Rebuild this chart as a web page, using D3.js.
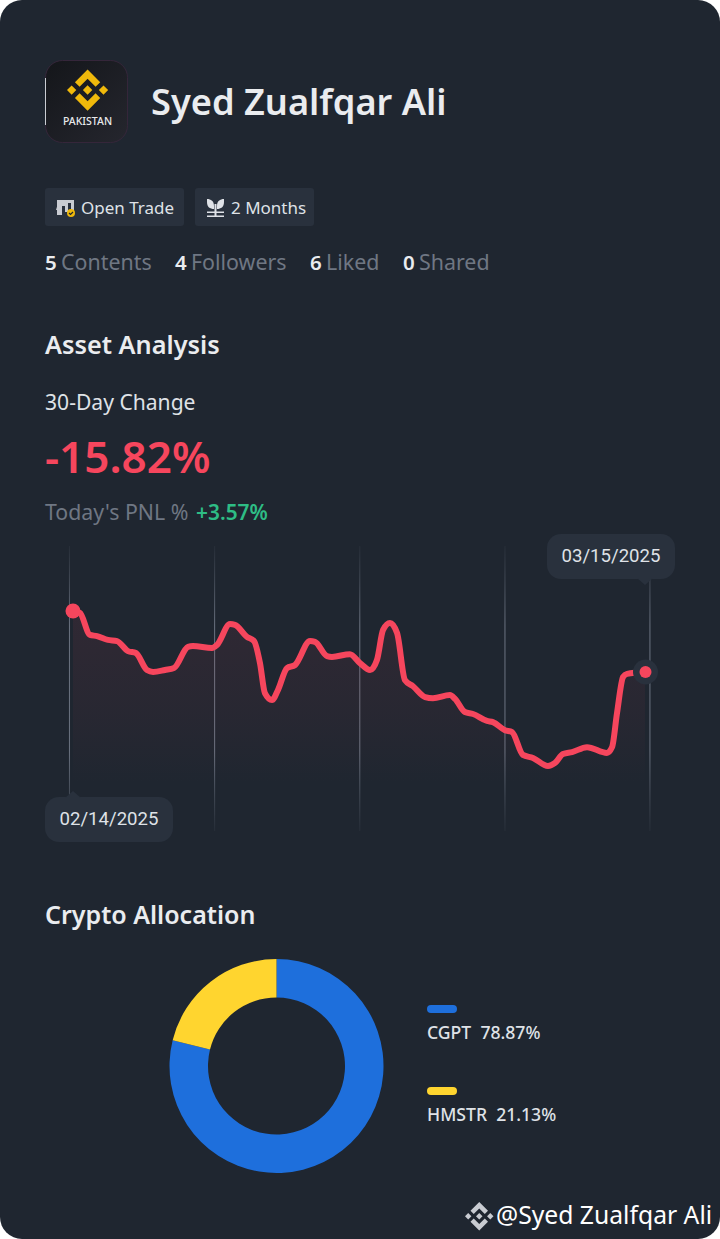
<!DOCTYPE html>
<html><head><meta charset="utf-8">
<script src="https://cdn.jsdelivr.net/npm/d3@7/dist/d3.min.js"></script>
<style>html,body{margin:0;padding:0;background:#fff}svg{display:block}</style>
</head><body><div id="c"></div>
<script>
const days=[0,.35,.86,1.22,1.77,2.23,2.79,3.19,3.75,4.06,4.66,5.12,5.83,6.08,7.05,7.3,7.96,8.21,8.82,9.18,9.48,9.73,10.09,10.39,10.85,11.26,12.02,12.27,12.88,13.13,14.04,14.55,15.06,15.41,15.72,16.07,16.43,16.83,17.24,17.85,18.25,19.11,19.37,19.87,20.28,20.99,21.29,21.9,22.26,22.81,23.32,24.08,24.44,24.84,25.3,26.06,27.07,27.33,27.58,27.89,28.09,29];
const changes=[0,-.5,-6.2,-6.5,-7.5,-7.8,-10.4,-10.9,-15.3,-15.8,-15.3,-14.8,-9.3,-9.1,-9.6,-8.8,-3.4,-3.6,-6.7,-7.8,-13.5,-21.3,-23.1,-20.5,-14.8,-14,-7.8,-8,-11.7,-11.9,-11.2,-13.5,-15.3,-12.7,-4.9,-3.1,-5.7,-17.9,-19.5,-22.3,-22.6,-21.8,-22.8,-26.2,-26.7,-28.5,-28.8,-30.9,-31.4,-37.3,-38.1,-40.2,-39.4,-37.1,-36.6,-35.3,-36.8,-35.3,-26.5,-17.1,-16.3,-15.82];
const gridDays=[-.18,7.18,14.54,21.9,29.25];
const dateLabels=["02/14/2025","03/15/2025"];
const assets=["CGPT","HMSTR"];
const shares=[78.87,21.13];
const assetColors=["#1e6fdc","#ffd52f"];
const stats=[["5","Contents"],["4","Followers"],["6","Liked"],["0","Shared"]];

const W=720,H=1239,UI="'Noto Sans',sans-serif",NUM="Roboto,sans-serif";
const svg=d3.select("#c").append("svg").attr("width",W).attr("height",H);
const defs=svg.append("defs");
const LOGO="M38.73 53.2l24.59-24.58 24.6 24.6 14.3-14.31L63.32 0 24.42 38.9l14.31 14.3zM0 63.31l14.3-14.31 14.31 14.31-14.31 14.3zM38.73 73.41l24.59 24.59 24.6-24.6 14.31 14.29-38.9 38.91-38.91-38.88v-.03l14.31-14.28zM98 63.31l14.3-14.31 14.31 14.3-14.31 14.32zM77.83 63.3L63.32 48.78 52.59 59.51l-1.24 1.23-2.54 2.54 14.51 14.5 14.51-14.47z";
svg.append("rect").attr("width",W).attr("height",H).attr("rx",22).attr("fill","#1f2630");

function txt(x,y,s,size,fill,weight,font,anchor){
  return svg.append("text").attr("x",x).attr("y",y).text(s).attr("font-size",size).attr("fill",fill)
   .attr("font-weight",weight||400).attr("font-family",font||UI).attr("text-anchor",anchor||"start");
}
// avatar
const ag=defs.append("linearGradient").attr("id","av").attr("x1",0).attr("y1",0).attr("x2",1).attr("y2",1);
ag.append("stop").attr("offset",0).attr("stop-color","#14161a");
ag.append("stop").attr("offset",1).attr("stop-color","#25262e");
svg.append("rect").attr("x",45.5).attr("y",60.5).attr("width",82).attr("height",82).attr("rx",17).attr("fill","url(#av)").attr("stroke","#35263a");
svg.append("rect").attr("x",45).attr("y",78).attr("width",1).attr("height",47).attr("fill","#c9ccd2");
svg.append("path").attr("d",LOGO).attr("fill","#f0b90b").attr("transform","translate(67,69.500) scale(.325)");
txt(87.5,125,"PAKISTAN",10.5,"#e8e9ec",500,UI,"middle");
txt(151,115,"Syed Zualfqar Ali",36.2,"#eaecef",600);

// badges
function badge(x,w,label,tx){
  svg.append("rect").attr("x",x).attr("y",188).attr("width",w).attr("height",38).attr("rx",3).attr("fill","#29313d");
  txt(tx,214,label,17,"#dfe2e7",400);
}
badge(45,139,"Open Trade",81);
badge(195,119,"2 Months",231);
svg.append("path").attr("d","M57 200h2v15h-2zM59 200h15v10h-3v-7h-3v9h-3v-6h-3v9h-3v-5h-3z").attr("fill","#c9ccd2");
svg.append("circle").attr("cx",71).attr("cy",213).attr("r",4).attr("fill","#f0b90b");
svg.append("path").attr("d","M69 213l1.500 1.500 2.500-2.500").attr("stroke","#1f2630").attr("stroke-width",1.2).attr("fill","none");
svg.append("path").attr("d","M207 199c4 0 7 2 7 7v3c-4 0-7-2-7-7zM224 199v3c0 5-3 7-7 7v-3c0-5 3-7 7-7zM214.500 204h2v12h-2zM207 211.500h17v1.500h-17zM207 215.500h17v1.500h-17z").attr("fill","#dfe2e7");

// stats
const statPos=[[45,61],[175,191],[310,326],[403,419]];
stats.forEach((s,i)=>{
  txt(statPos[i][0],270,s[0],20.5,"#eaecef",600);
  txt(statPos[i][1],270,s[1],21.4,"#6f7783",400);
});
txt(45,354,"Asset Analysis",25.3,"#eaecef",600);
txt(45,410,"30-Day Change",21.1,"#dfe2e7",400);
txt(45,473,"-15.82%",44,"#f6465d",600);
txt(45,520,"Today's PNL %",21.3,"#6f7783",400);
txt(196,520,"+3.57%",20.9,"#2ebd85",600);

// chart
const x=d3.scaleLinear().domain([0,29]).range([73,645]);
const y=d3.scaleLinear().domain([0,-40.5]).range([611,767.2]);
const data=days.map((d,i)=>[d,changes[i]]);
const gg=defs.append("linearGradient").attr("id","gl").attr("x1",0).attr("y1",0).attr("x2",0).attr("y2",1);
[[0,.1],[.12,.45],[.28,1],[.72,1],[.88,.45],[1,.1]].forEach(s=>gg.append("stop").attr("offset",s[0]).attr("stop-color","#6a7280").attr("stop-opacity",s[1]));
svg.append("g").selectAll("rect").data(gridDays).join("rect")
 .attr("x",d=>x(d)-.5).attr("y",546).attr("width",1).attr("height",285).attr("fill","url(#gl)");
const fg=defs.append("linearGradient").attr("id","fa").attr("gradientUnits","userSpaceOnUse").attr("x1",0).attr("y1",611).attr("x2",0).attr("y2",785);
fg.append("stop").attr("offset",0).attr("stop-color","#f6465d").attr("stop-opacity",.08);
fg.append("stop").attr("offset",.6).attr("stop-color","#f6465d").attr("stop-opacity",.04);
fg.append("stop").attr("offset",1).attr("stop-color","#f6465d").attr("stop-opacity",0);
svg.append("path").datum(data).attr("fill","url(#fa)")
 .attr("d",d3.area().x(d=>x(d[0])).y0(y(-45)).y1(d=>y(d[1])).curve(d3.curveMonotoneX));
svg.append("path").datum(data).attr("fill","none").attr("stroke","#f6465d").attr("stroke-width",6).attr("stroke-linecap","round").attr("stroke-linejoin","round")
 .attr("d",d3.line().x(d=>x(d[0])).y(d=>y(d[1])).curve(d3.curveMonotoneX));
const first=data[0],last=data[data.length-1];
svg.append("circle").attr("cx",x(first[0])).attr("cy",y(first[1])).attr("r",7.500).attr("fill","#f6465d");
svg.append("circle").attr("cx",x(last[0])+.5).attr("cy",y(last[1])).attr("r",12.500).attr("fill","#29313d");
svg.append("circle").attr("cx",x(last[0])+.5).attr("cy",y(last[1])).attr("r",6).attr("fill","#f6465d");
function tip(rx,ry,label,ax,up){
  svg.append("rect").attr("x",rx).attr("y",ry).attr("width",128).attr("height",45).attr("rx",14).attr("fill","#29313d");
  svg.append("path").attr("fill","#29313d").attr("d",up?`M${ax-8} ${ry+1}L${ax} ${ry-6}L${ax+8} ${ry+1}z`:`M${ax-8} ${ry+44}L${ax} ${ry+51}L${ax+8} ${ry+44}z`);
  txt(rx+64,ry+28,label,18.6,"#dfe2e7",400,NUM,"middle");
}
tip(45,797,dateLabels[0],73,true);
tip(547,534,dateLabels[1],645,false);

// donut
txt(45,924,"Crypto Allocation",25,"#eaecef",600);
const pie=d3.pie().sort(null)(shares);
const arc=d3.arc().innerRadius(68.5).outerRadius(107);
svg.append("g").attr("transform","translate(276.500,1066)").selectAll("path").data(pie).join("path")
 .attr("d",arc).attr("fill",(d,i)=>assetColors[i]);
assets.forEach((a,i)=>{
  const yy=i*82;
  svg.append("rect").attr("x",427).attr("y",1005+yy).attr("width",30).attr("height",8).attr("rx",4).attr("fill",assetColors[i]);
  txt(427,1039+yy,a+"\u00a0\u00a0"+shares[i].toFixed(2)+"%",17.6,"#dfe2e7",500);
});
// watermark
svg.append("path").attr("d",LOGO).attr("fill","#c9ccd2").attr("transform","translate(465,1202) scale(.225)");
txt(496,1224,"@Syed Zualfqar Ali",24.7,"#ffffff",400);
</script></body></html>
